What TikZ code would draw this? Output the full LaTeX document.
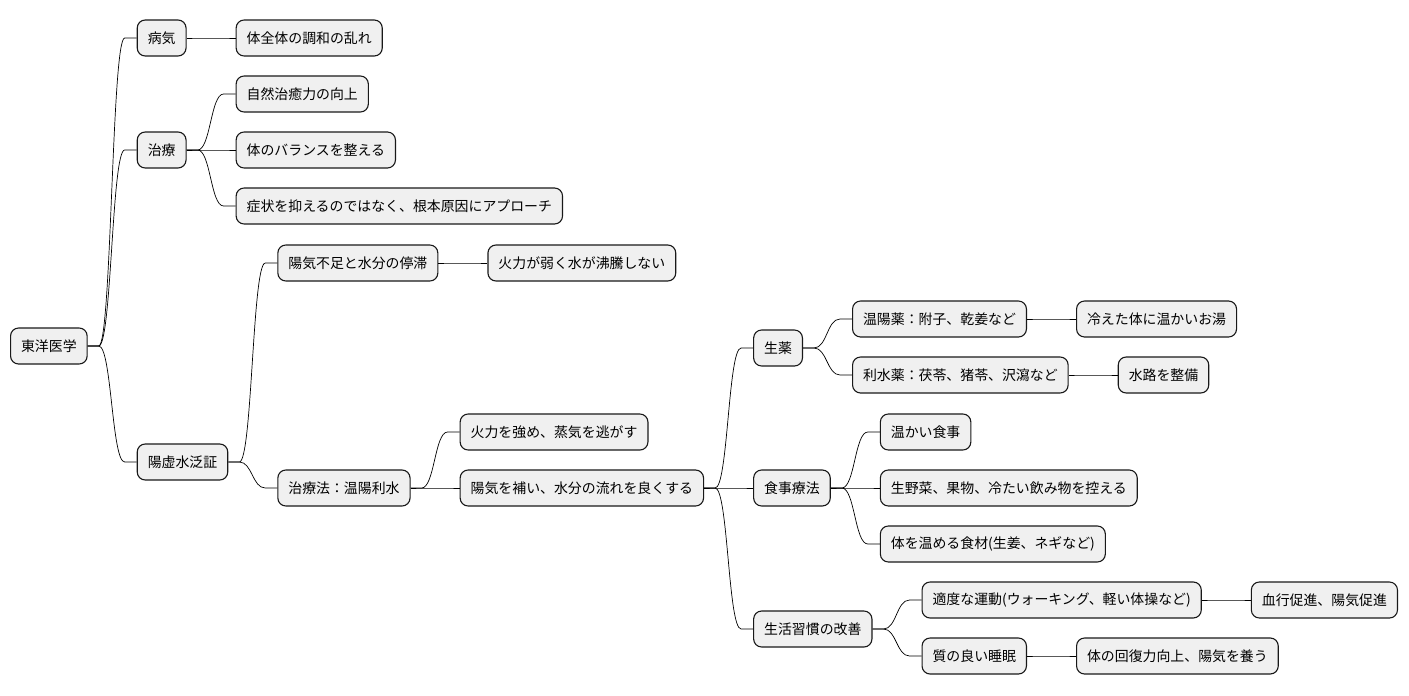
\documentclass[tikz,border=0pt]{standalone}
\usepackage{fontspec}
\setmainfont{Noto Sans CJK JP}
\usetikzlibrary{positioning,calc}

\tikzset{
  box/.style={draw=black!90, fill=black!6, line width=1.1pt, rounded corners=8pt,
    inner xsep=10.5pt, inner ysep=0pt, minimum height=36pt,
    font=\fontsize{13.9}{16}\selectfont},
  edge/.style={line width=0.7pt, black}
}
\newcommand\branch[2]{\draw[edge] (#1.east) -- ++(11pt,0) .. controls +(13pt,0) and +(-13pt,0) .. ($(#2.west)+(-12pt,0)$) -- (#2.west);}

\begin{document}
\begin{tikzpicture}[x=1pt,y=-1pt]
  \useasboundingbox (0,0) rectangle (1409,696);

  % root
  \node[box, anchor=west] (toyo) at (10,346) {東洋医学};

  % first level
  \node[box, right=49pt of toyo, yshift=308pt] (byoki) {病気};
  \node[box, right=49pt of byoki] (chowa) {体全体の調和の乱れ};

  \node[box, right=49pt of toyo, yshift=196pt] (chiryo) {治療};
  \node[box, right=49pt of chiryo, yshift=56pt] (shizen) {自然治癒力の向上};
  \node[box, right=49pt of chiryo] (balance) {体のバランスを整える};
  \node[box, right=49pt of chiryo, yshift=-56pt] (shojo) {症状を抑えるのではなく、根本原因にアプローチ};

  \node[box, right=49pt of toyo, yshift=-116pt] (yoshin) {陽虚水泛証};
  \node[box, right=49pt of yoshin, yshift=199pt] (yoki) {陽気不足と水分の停滞};
  \node[box, right=49pt of yoki] (karyoku) {火力が弱く水が沸騰しない};

  \node[box, right=49pt of yoshin, yshift=-26pt] (chiryoho) {治療法：温陽利水};
  \node[box, right=49pt of chiryoho, yshift=56pt] (kyoka) {火力を強め、蒸気を逃がす};
  \node[box, right=49pt of chiryoho] (hosu) {陽気を補い、水分の流れを良くする};

  % methods
  \node[box, right=49pt of hosu, yshift=140pt] (shoyaku) {生薬};
  \node[box, right=49pt of shoyaku, yshift=29pt] (onyo) {温陽薬：附子、乾姜など};
  \node[box, right=49pt of onyo] (hie) {冷えた体に温かいお湯};
  \node[box, right=49pt of shoyaku, yshift=-27pt] (risui) {利水薬：茯苓、猪苓、沢瀉など};
  \node[box, right=49pt of risui] (suiro) {水路を整備};

  \node[box, right=49pt of hosu] (shokuji) {食事療法};
  \node[box, right=49pt of shokuji, yshift=56pt] (atatakai) {温かい食事};
  \node[box, right=49pt of shokuji] (namayasai) {生野菜、果物、冷たい飲み物を控える};
  \node[box, right=49pt of shokuji, yshift=-56pt] (shokuzai) {体を温める食材(生姜、ネギなど)};

  \node[box, right=49pt of hosu, yshift=-141pt] (seikatsu) {生活習慣の改善};
  \node[box, right=49pt of seikatsu, yshift=29pt] (undo) {適度な運動(ウォーキング、軽い体操など)};
  \node[box, right=49pt of undo] (kekko) {血行促進、陽気促進};
  \node[box, right=49pt of seikatsu, yshift=-27pt] (suimin) {質の良い睡眠};
  \node[box, right=49pt of suimin] (kaifuku) {体の回復力向上、陽気を養う};

  % connectors
  \foreach \a/\b in {toyo/byoki, byoki/chowa, toyo/chiryo, chiryo/shizen, chiryo/balance,
      chiryo/shojo, toyo/yoshin, yoshin/yoki, yoki/karyoku, yoshin/chiryoho,
      chiryoho/kyoka, chiryoho/hosu, hosu/shoyaku, shoyaku/onyo, onyo/hie,
      shoyaku/risui, risui/suiro, hosu/shokuji, shokuji/atatakai, shokuji/namayasai,
      shokuji/shokuzai, hosu/seikatsu, seikatsu/undo, undo/kekko, seikatsu/suimin,
      suimin/kaifuku}
    \branch{\a}{\b};
\end{tikzpicture}
\end{document}
